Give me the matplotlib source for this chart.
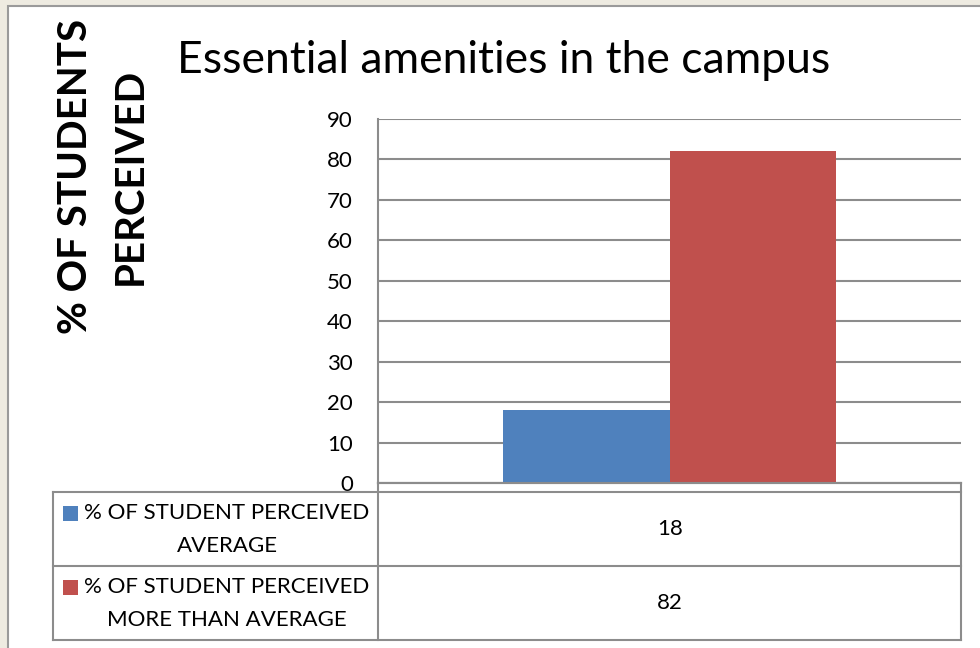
import matplotlib.pyplot as plt
from matplotlib.patches import Rectangle

plt.rcParams['font.family'] = ['Lato', 'DejaVu Sans']

title = "Essential amenities in the campus"
ylabel = "% OF STUDENTS\nPERCEIVED"
series = ["% OF STUDENT PERCEIVED\nAVERAGE", "% OF STUDENT PERCEIVED\nMORE THAN AVERAGE"]
values = [18, 82]
colors = ["#4F81BD", "#C0504D"]
yticks = list(range(0, 100, 10))

W, H = 980, 648
grid_c = "#8c8c8c"


def fx(x):
    return x / W


def fy(y):
    return 1 - y / H


fig = plt.figure(figsize=(W / 100, H / 100), dpi=100, facecolor="#eeebe1")

# white chart panel (cut off at right / bottom)
fig.patches.append(Rectangle((fx(8), fy(700)), 1.2, (700 - 6) / H, transform=fig.transFigure,
                             facecolor="white", edgecolor="#9a9a9a", lw=1.5, zorder=-10))

# plot area
ax = fig.add_axes([fx(378), fy(483), (961 - 378) / W, (483 - 119) / H])
ax.set_facecolor("none")
bw = 0.2856
for i, (v, c) in enumerate(zip(values, colors)):
    ax.bar((i - 0.5) * bw, v, width=bw, color=c, zorder=3)
ax.set_xlim(-0.5, 0.5)
ax.set_ylim(0, 90)
ax.set_yticks(yticks)
ax.set_yticklabels([str(t) for t in yticks], fontsize=16)
ax.tick_params(axis="y", length=0, pad=18)
ax.set_xticks([])
ax.grid(axis="y", color=grid_c, lw=1.5, zorder=1)
for s in ["top", "right"]:
    ax.spines[s].set_visible(False)
ax.spines["left"].set_color(grid_c)
ax.spines["left"].set_linewidth(1.5)
ax.spines["bottom"].set_color(grid_c)
ax.spines["bottom"].set_linewidth(1.5)

fig.text(fx(504), fy(40), title, fontsize=32, ha="center", va="top")
fig.text(fx(103), fy(176), ylabel, fontsize=29, fontweight="bold", rotation=90,
         ha="center", va="center", multialignment="center", linespacing=1.6)

# data table
ta = fig.add_axes([0, 0, 1, 1])
ta.set_xlim(0, W)
ta.set_ylim(H, 0)
ta.axis("off")
ta.patch.set_alpha(0)
lk = dict(color=grid_c, lw=1.5)
ta.plot([53, 961], [492, 492], **lk)
ta.plot([378, 961], [483, 483], **lk)
rows = [492, 566, 640]
for y in rows[1:]:
    ta.plot([53, 961], [y, y], **lk)
ta.plot([53, 53], [492, 640], **lk)
ta.plot([378, 378], [483, 640], **lk)
ta.plot([961, 961], [483, 640], **lk)

for i, (name, v, c) in enumerate(zip(series, values, colors)):
    top, bot = rows[i], rows[i + 1]
    l1, l2 = name.split("\n")
    ta.add_patch(Rectangle((63, top + 14), 15, 15, facecolor=c, edgecolor="none"))
    ta.text(227, top + 21, l1, fontsize=16, ha="center", va="center")
    ta.text(227, top + 54, l2, fontsize=16, ha="center", va="center")
    ta.text(670, (top + bot) / 2, str(v), fontsize=16, ha="center", va="center")

fig.savefig("out.png", dpi=100, facecolor=fig.get_facecolor())
